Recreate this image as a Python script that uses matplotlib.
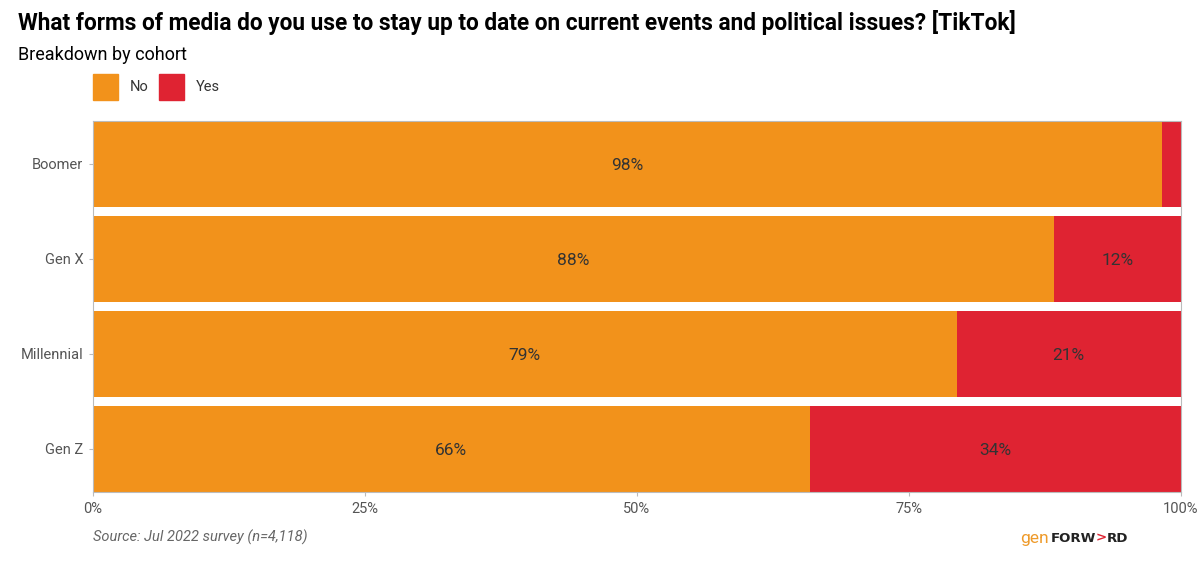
import matplotlib.pyplot as plt
from matplotlib.patches import Rectangle

plt.rcParams['font.family'] = ['Roboto', 'DejaVu Sans']

cohorts = ['Boomer', 'Gen X', 'Millennial', 'Gen Z']
no_vals = [98.3, 88.3, 79.4, 65.9]
yes_vals = [1.7, 11.7, 20.6, 34.1]
tick_vals = [0, 25, 50, 75, 100]
tick_labels = ['0%', '25%', '50%', '75%', '100%']

c_no = '#F2921B'
c_yes = '#DF2332'
txt = '#333333'

fig = plt.figure(figsize=(12, 5.64), dpi=100)
ax = fig.add_axes([0.0775, 0.128, 0.9065, 0.658])

bh = 0.905
ypos = list(range(len(cohorts)))
ax.barh(ypos, no_vals, height=bh, color=c_no, edgecolor='none')
ax.barh(ypos, yes_vals, left=no_vals, height=bh, color=c_yes, edgecolor='none')

for y, n, s in zip(ypos, no_vals, yes_vals):
    ax.text(n / 2, y + 0.02, f'{round(n)}%', ha='center', va='center', fontsize=12.5, color=txt)
    if s > 5:
        ax.text(n + s / 2, y + 0.02, f'{round(s)}%', ha='center', va='center', fontsize=12.5, color=txt)

ax.set_xlim(0, 100)
ax.set_ylim(len(cohorts) - 1 + bh / 2, -bh / 2)
ax.set_yticks(ypos)
ax.set_yticklabels(cohorts, fontsize=10.5, color='#555555')
ax.set_xticks(tick_vals)
ax.set_xticklabels(tick_labels, fontsize=10.5, color='#555555')
ax.tick_params(axis='both', length=3, color='#bbbbbb', pad=4)
for sp in ax.spines.values():
    sp.set_color('#bbbbbb')
    sp.set_linewidth(0.8)

fig.text(0.015, 0.96, 'What forms of media do you use to stay up to date on current events and political issues? [TikTok]',
         fontsize=16.3, fontweight='bold', color='black', va='center')
fig.text(0.015, 0.902, 'Breakdown by cohort', fontsize=13, color='black', va='center')

# legend
fig.patches.append(Rectangle((0.0775, 0.822), 0.021, 0.046, transform=fig.transFigure, color=c_no))
fig.text(0.108, 0.845, 'No', fontsize=10.5, color=txt, va='center')
fig.patches.append(Rectangle((0.1325, 0.822), 0.021, 0.046, transform=fig.transFigure, color=c_yes))
fig.text(0.163, 0.845, 'Yes', fontsize=10.5, color=txt, va='center')

fig.text(0.0775, 0.047, 'Source: Jul 2022 survey (n=4,118)', fontsize=10.5, style='italic', color='#666666', va='center')

# logo, pieces placed one after another
r = fig.canvas.get_renderer()
x = 1020
pieces = [('gen', '#EE9A2A', 'normal', 12.5, 2),
          ('FORW', '#222222', 'bold', 9.6, 0),
          ('>', c_yes, 'bold', 9.6, 0),
          ('RD', '#222222', 'bold', 9.6, 0)]
for s, col, w, fs, gap in pieces:
    t = fig.text(x / 1200, 0.046, s, fontsize=fs, color=col, fontweight=w, va='center',
                 family=['DejaVu Sans'] if w == 'bold' else ['Roboto'])
    x += t.get_window_extent(r).width + gap

fig.savefig('out.png', dpi=100)
